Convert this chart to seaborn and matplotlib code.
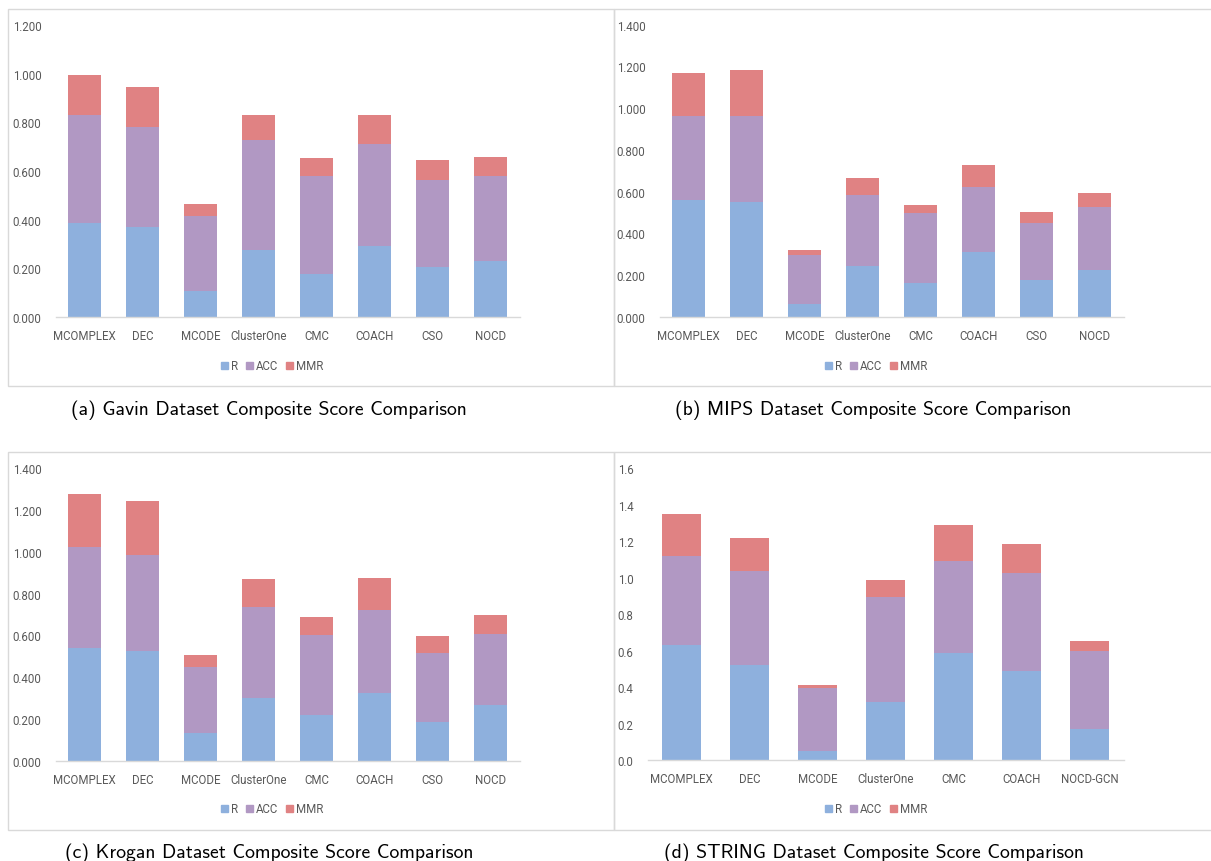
import numpy as np
import pandas as pd
import matplotlib
matplotlib.use("Agg")
import matplotlib.pyplot as plt
from matplotlib.patches import Rectangle, Patch
import seaborn as sns

sns.set_style("white")
plt.rcParams["font.family"] = ["Roboto", "DejaVu Sans"]

# ---- data -------------------------------------------------------------
methods8 = ["MCOMPLEX", "DEC", "MCODE", "ClusterOne", "CMC", "COACH", "CSO", "NOCD"]
methods7 = ["MCOMPLEX", "DEC", "MCODE", "ClusterOne", "CMC", "COACH", "NOCD-GCN"]
series_names = ["R", "ACC", "MMR"]

gavin_r   = [0.385, 0.369, 0.108, 0.277, 0.178, 0.290, 0.205, 0.230]
gavin_acc = [0.446, 0.413, 0.307, 0.450, 0.402, 0.423, 0.357, 0.350]
gavin_mmr = [0.165, 0.164, 0.048, 0.105, 0.074, 0.117, 0.084, 0.078]

mips_r   = [0.560, 0.550, 0.061, 0.241, 0.163, 0.312, 0.176, 0.226]
mips_acc = [0.404, 0.414, 0.235, 0.341, 0.332, 0.309, 0.274, 0.299]
mips_mmr = [0.206, 0.219, 0.024, 0.081, 0.040, 0.104, 0.054, 0.069]

krogan_r   = [0.540, 0.525, 0.134, 0.302, 0.219, 0.326, 0.185, 0.265]
krogan_acc = [0.485, 0.460, 0.316, 0.436, 0.383, 0.396, 0.329, 0.340]
krogan_mmr = [0.251, 0.257, 0.054, 0.132, 0.086, 0.155, 0.083, 0.094]

string_r   = [0.631, 0.519, 0.051, 0.320, 0.585, 0.490, 0.168]
string_acc = [0.486, 0.520, 0.342, 0.576, 0.505, 0.535, 0.428]
string_mmr = [0.234, 0.181, 0.017, 0.093, 0.198, 0.158, 0.054]

captions = [
    "(a) Gavin Dataset Composite Score Comparison",
    "(b) MIPS Dataset Composite Score Comparison",
    "(c) Krogan Dataset Composite Score Comparison",
    "(d) STRING Dataset Composite Score Comparison",
]

# ---- style ------------------------------------------------------------
C_R, C_ACC, C_MMR = "#8EB0DD", "#B198C3", "#E08283"
GREY_TXT = "#595959"
GREY_LINE = "#D9D9D9"

W, H = 1211, 862
fig = plt.figure(figsize=(W / 100, H / 100), dpi=100)


def px_axes(x0, x1, ybot, ytop):
    return fig.add_axes([x0 / W, 1 - ybot / H, (x1 - x0) / W, (ybot - ytop) / H])


panels = [
    dict(cats=methods8, r=gavin_r, acc=gavin_acc, mmr=gavin_mmr,
         box=(55.5, 519.5, 318, 26), ymax=1.2, fmt="{:.3f}", legend=(272, 367),
         cap=(269, 410), frame=(8, 10, 614, 387)),
    dict(cats=methods8, r=mips_r, acc=mips_acc, mmr=mips_mmr,
         box=(659.5, 1123.5, 317.7, 25.7), ymax=1.4, fmt="{:.3f}", legend=(876, 367),
         cap=(873, 410), frame=(614, 10, 1212, 387)),
    dict(cats=methods8, r=krogan_r, acc=krogan_acc, mmr=krogan_mmr,
         box=(55.5, 519.5, 761.7, 469.3), ymax=1.4, fmt="{:.3f}", legend=(272, 810),
         cap=(269, 853), frame=(8, 453, 614, 831)),
    dict(cats=methods7, r=string_r, acc=string_acc, mmr=string_mmr,
         box=(647.5, 1123.5, 761, 469.3), ymax=1.6, fmt="{:.1f}", legend=(876, 810),
         cap=(874, 853), frame=(614, 453, 1212, 831)),
]

for i, p in enumerate(panels):
    # panel frame
    fx0, fy0, fx1, fy1 = p["frame"]
    fig.patches.append(Rectangle((fx0 / W, 1 - fy1 / H), (fx1 - fx0) / W, (fy1 - fy0) / H,
                                 transform=fig.transFigure, fill=False,
                                 edgecolor=GREY_LINE, linewidth=1.0))

    ax = px_axes(*p["box"])
    df = pd.DataFrame({"method": p["cats"], "R": p["r"], "ACC": p["acc"], "MMR": p["mmr"]})
    df["R+ACC"] = df["R"] + df["ACC"]
    df["total"] = df["R+ACC"] + df["MMR"]

    # stacked bars: draw the full stack first, then overlay the lower segments
    for col, color in [("total", C_MMR), ("R+ACC", C_ACC), ("R", C_R)]:
        sns.barplot(data=df, x="method", y=col, color=color, saturation=1,
                    width=0.57, ax=ax, linewidth=0, order=p["cats"])

    ax.set_ylim(0, p["ymax"])
    ax.set_xlim(-0.5, len(p["cats"]) - 0.5)
    yt = np.round(np.arange(0, p["ymax"] + 1e-9, 0.2), 1)
    ax.set_yticks(yt)
    ax.set_yticklabels([p["fmt"].format(v) for v in yt])
    ax.set_xlabel("")
    ax.set_ylabel("")
    for s in ["top", "right", "left"]:
        ax.spines[s].set_visible(False)
    ax.spines["bottom"].set_color(GREY_LINE)
    ax.spines["bottom"].set_linewidth(1.0)
    ax.tick_params(axis="both", length=0, labelsize=8.3, colors=GREY_TXT)
    ax.tick_params(axis="y", pad=10)
    ax.tick_params(axis="x", pad=8.5)
    ax.set_facecolor("none")

    handles = [Patch(color=c, label=n) for c, n in zip([C_R, C_ACC, C_MMR], series_names)]
    lx, ly = p["legend"]
    fig.legend(handles=handles, loc="center", bbox_to_anchor=(lx / W, 1 - ly / H),
               ncol=3, frameon=False, fontsize=8.3, handlelength=0.6, handleheight=0.6,
               handletextpad=0.25, columnspacing=0.7, labelcolor=GREY_TXT)

    cx, cy = p["cap"]
    fig.text(cx / W, 1 - cy / H, captions[i], ha="center", va="center",
             fontsize=14.2, family=["cmss10", "DejaVu Sans"], color="black")

fig.savefig("out.png", dpi=100, facecolor="white")
